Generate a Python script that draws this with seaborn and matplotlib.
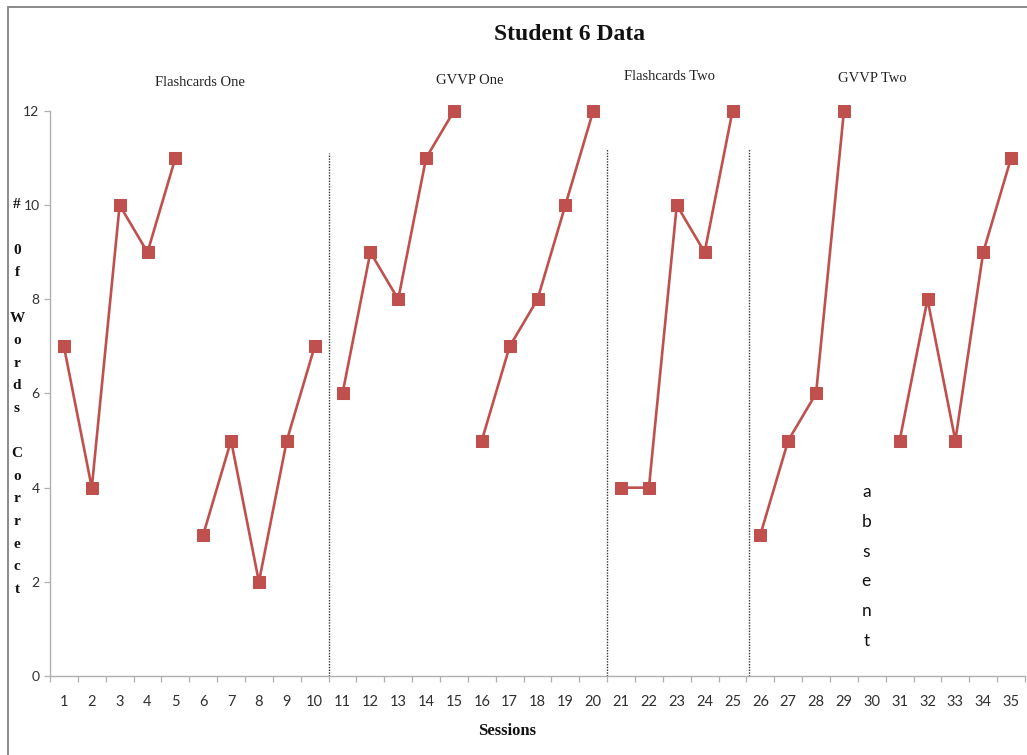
import matplotlib
matplotlib.use("Agg")
import matplotlib.pyplot as plt
from matplotlib.lines import Line2D
import seaborn as sns
import pandas as pd
import numpy as np

# Words correct per session, grouped into the runs that are drawn as connected lines
run_sessions = [
    [1, 2, 3, 4, 5],
    [6, 7, 8, 9, 10],
    [11, 12, 13, 14, 15],
    [16, 17, 18, 19, 20],
    [21, 22, 23, 24, 25],
    [26, 27, 28, 29],
    [31, 32, 33, 34, 35],
]
run_scores = [
    [7, 4, 10, 9, 11],
    [3, 5, 2, 5, 7],
    [6, 9, 8, 11, 12],
    [5, 7, 8, 10, 12],
    [4, 4, 10, 9, 12],
    [3, 5, 6, 12],
    [5, 8, 5, 9, 11],
]
session_labels = [str(i) for i in range(1, 36)]
y_ticks = [0, 2, 4, 6, 8, 10, 12]

phase_names = ["Flashcards One", "GVVP One", "Flashcards Two", "GVVP Two"]
phase_breaks = [10.52, 20.49, 25.58]
phase_break_tops = [11.1, 11.2, 11.2]
absent_session = 29.8

rows = []
for run_id, (ss, vv) in enumerate(zip(run_sessions, run_scores)):
    for s, v in zip(ss, vv):
        rows.append({"session": s, "words": v, "run": run_id})
df = pd.DataFrame(rows)

sns.set_theme(style="white")
plt.rcParams["font.family"] = ["Lato", "DejaVu Sans"]

W, H = 1027, 755
fig = plt.figure(figsize=(W / 100, H / 100), dpi=100)
fig.patch.set_facecolor("white")
ax = fig.add_axes([50 / W, 1 - 676 / H, 975 / W, 565 / H])

red = "#C0504D"
sns.lineplot(data=df, x="session", y="words", units="run", estimator=None,
             color=red, linewidth=1.9, marker="s", markersize=8.5,
             markeredgecolor=red, markerfacecolor=red, ax=ax, legend=False,
             clip_on=False)

ax.set_xlim(0.5, 35.5)
ax.set_ylim(0, 12)

# Dotted phase dividers
for xb, top in zip(phase_breaks, phase_break_tops):
    ax.plot([xb, xb], [0, top], linestyle=(0, (1, 1)), color="#333333",
            linewidth=1.0)

# Axes styling
for side in ["top", "right"]:
    ax.spines[side].set_visible(False)
for side in ["left", "bottom"]:
    ax.spines[side].set_color("#b0b0b0")
    ax.spines[side].set_linewidth(1.0)

ax.set_xticks(range(1, 36))
ax.set_xticklabels(session_labels)
ax.set_xticks(np.arange(0.5, 36, 1.0), minor=True)
ax.tick_params(axis="x", which="major", length=0, pad=13.5, labelsize=10.5,
               labelcolor="#303030")
ax.tick_params(axis="x", which="minor", direction="out", length=4.5,
               width=0.9, color="#b0b0b0", bottom=True)
ax.set_yticks(y_ticks)
ax.tick_params(axis="y", which="major", direction="out", length=4.5,
               width=0.9, color="#b0b0b0", pad=3, labelsize=10,
               labelcolor="#303030", left=True)
ax.set_xlabel("")
ax.set_ylabel("")

serif = ["Liberation Serif", "DejaVu Serif"]

# Title, axis title and phase names
fig.text(570 / W, 1 - 35 / H, "Student 6 Data", ha="center", va="center",
         fontsize=17, fontweight="bold", family=serif, color="#111111")
fig.text(507 / W, 1 - 731 / H, "Sessions", ha="center", va="center",
         fontsize=12, fontweight="bold", family=serif, color="#111111")

phase_pos = [(200, 82), (470, 80), (670, 76), (872, 78)]
for name, (px, py) in zip(phase_names, phase_pos):
    fig.text(px / W, 1 - py / H, name, ha="center", va="center",
             fontsize=10.5, family=serif, color="#222222")

# Stacked y-axis title
ylabel_lines = ["#", ""] + list("0f") + [""] + list("Words") + [""] + list("Correct")
for i, ch in enumerate(ylabel_lines):
    if ch:
        fig.text(17 / W, 1 - (205 + 22.6 * i) / H, ch, ha="center",
                 va="center", fontsize=11, fontweight="bold", family=serif,
                 color="#111111")

# Stacked "absent" note for the missed session
trans = matplotlib.transforms.blended_transform_factory(ax.transData,
                                                        fig.transFigure)
for i, ch in enumerate("absent"):
    ax.text(absent_session, 1 - (492 + 29.8 * i) / H, ch, transform=trans,
            ha="center", va="center", fontsize=12.5, color="#111111",
            family=["Lato", "DejaVu Sans"])

# Outer frame
fig.add_artist(Line2D([8 / W, 8 / W], [0, 1 - 7 / H], transform=fig.transFigure,
                      color="#8a8a8a", linewidth=1.4))
fig.add_artist(Line2D([8 / W, 1], [1 - 7 / H, 1 - 7 / H],
                      transform=fig.transFigure, color="#8a8a8a",
                      linewidth=1.4))

fig.savefig("out.png", dpi=100, facecolor="white")
